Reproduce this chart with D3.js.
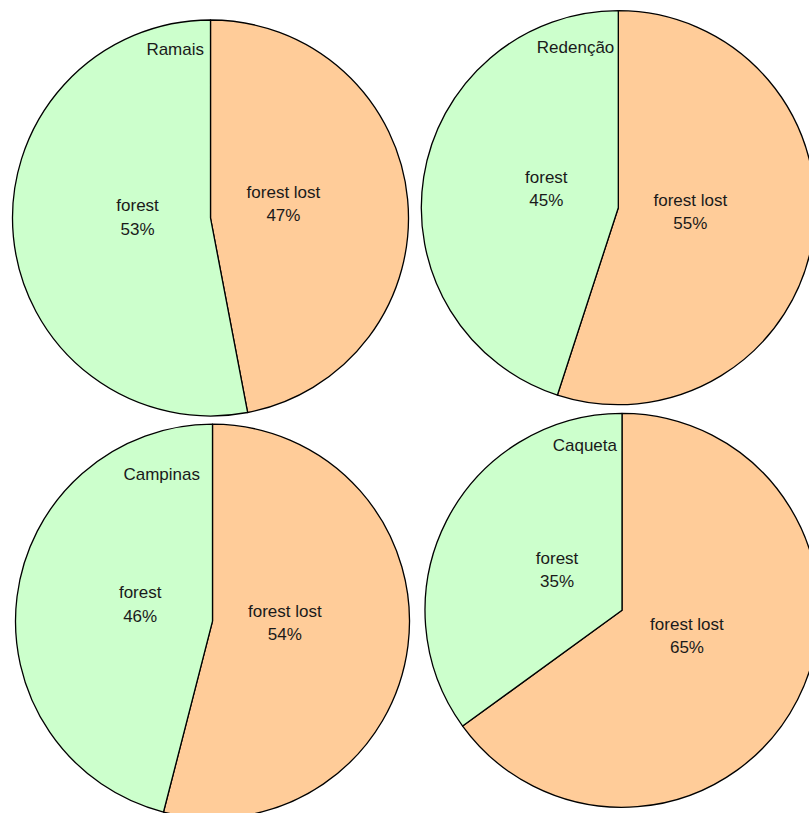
<!DOCTYPE html>
<html>
<head>
<meta charset="utf-8">
<script src="https://cdn.jsdelivr.net/npm/d3@7"></script>
<style>
  html, body { margin: 0; padding: 0; background: #ffffff; }
  svg { display: block; }
  text { font-family: "Liberation Sans", Arial, Helvetica, sans-serif; fill: #1a1a1a; }
</style>
</head>
<body>
<svg id="chart" width="809" height="813"></svg>
<script>
// Forest cover shares per site (percent)
const sites = ["Ramais", "Redenção", "Campinas", "Caqueta"];
const forestLost = [47, 55, 54, 65];
const forest = [53, 45, 46, 35];
const sliceNames = ["forest lost", "forest"];

// Panel layout: pie centre, radius and title placement
const panels = [
  { cx: 210.5, cy: 218,   r: 198, titleDx: -6.5,  titleDy: -163 },
  { cx: 618.3, cy: 207.7, r: 197, titleDx: -4,    titleDy: -155 },
  { cx: 212.5, cy: 621.2, r: 197, titleDx: -12.5, titleDy: -141 },
  { cx: 622,   cy: 610.3, r: 197, titleDx: -5,    titleDy: -159 }
];

const colour = d3.scaleOrdinal().domain(sliceNames).range(["#ffcc99", "#ccffcc"]);
const pie = d3.pie().sort(null).value(d => d.value);
const svg = d3.select("#chart");

sites.forEach((site, i) => {
  const p = panels[i];
  const values = [
    { name: sliceNames[0], value: forestLost[i] },
    { name: sliceNames[1], value: forest[i] }
  ];
  const arcs = pie(values);
  const arc = d3.arc().innerRadius(0).outerRadius(p.r);
  const labelArc = d3.arc().innerRadius(p.r * 0.37).outerRadius(p.r * 0.37);

  const g = svg.append("g").attr("transform", `translate(${p.cx},${p.cy})`);

  g.selectAll("path.slice")
    .data(arcs)
    .join("path")
    .attr("class", "slice")
    .attr("d", arc)
    .attr("fill", d => colour(d.data.name))
    .attr("stroke", "#000")
    .attr("stroke-width", 1.3)
    .attr("stroke-linejoin", "round");

  // Two-line slice label (name, percentage) centred on the slice centroid
  const labels = g.selectAll("text.lab")
    .data(arcs)
    .join("text")
    .attr("class", "lab")
    .attr("text-anchor", "middle")
    .attr("font-size", 17)
    .attr("transform", d => {
      const [x, y] = labelArc.centroid(d);
      return `translate(${x},${y - 8})`;
    });
  labels.append("tspan").attr("x", 0).attr("y", -5.6).text(d => d.data.name);
  labels.append("tspan").attr("x", 0).attr("y", 17.9).text(d => d.data.value + "%");

  g.append("text")
    .attr("x", p.titleDx)
    .attr("y", p.titleDy)
    .attr("text-anchor", "end")
    .attr("font-size", 17)
    .text(site);
});
</script>
</body>
</html>
